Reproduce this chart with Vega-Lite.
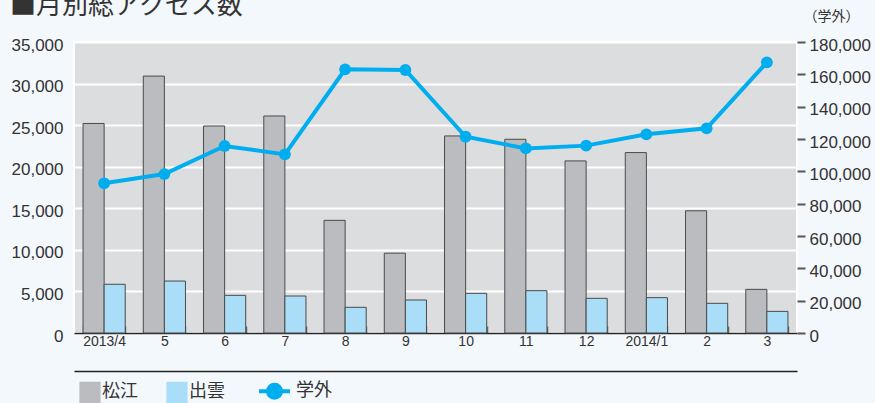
{
  "$schema": "https://vega.github.io/schema/vega-lite/v6.json",
  "width": 723,
  "height": 291,
  "autosize": {"type": "none"},
  "padding": {"left": 74, "top": 42, "right": 78, "bottom": 70},
  "background": "#f3f8fc",
  "title": {"text": "■月別総アクセス数", "anchor": "start", "frame": "group", "fontSize": 26, "font": "Noto Sans CJK JP", "fontWeight": "normal", "color": "#333333", "dx": -64, "dy": 10, "offset": 0},
  "config": {"view": {"fill": "#dcdddf", "stroke": "#ffffff", "strokeWidth": 2}, "font": "Liberation Sans"},
  "data": {"values": [
    {"m": "2013/4", "s": "松江", "v": 25200}, {"m": "2013/4", "s": "出雲", "v": 5860}, {"m": "2013/4", "s": "学外", "v": 92600},
    {"m": "5", "s": "松江", "v": 30900}, {"m": "5", "s": "出雲", "v": 6250}, {"m": "5", "s": "学外", "v": 98300},
    {"m": "6", "s": "松江", "v": 24900}, {"m": "6", "s": "出雲", "v": 4530}, {"m": "6", "s": "学外", "v": 115700},
    {"m": "7", "s": "松江", "v": 26100}, {"m": "7", "s": "出雲", "v": 4450}, {"m": "7", "s": "学外", "v": 110500},
    {"m": "8", "s": "松江", "v": 13550}, {"m": "8", "s": "出雲", "v": 3090}, {"m": "8", "s": "学外", "v": 163100},
    {"m": "9", "s": "松江", "v": 9600}, {"m": "9", "s": "出雲", "v": 3970}, {"m": "9", "s": "学外", "v": 162700},
    {"m": "10", "s": "松江", "v": 23700}, {"m": "10", "s": "出雲", "v": 4770}, {"m": "10", "s": "学外", "v": 121400},
    {"m": "11", "s": "松江", "v": 23300}, {"m": "11", "s": "出雲", "v": 5090}, {"m": "11", "s": "学外", "v": 114200},
    {"m": "12", "s": "松江", "v": 20700}, {"m": "12", "s": "出雲", "v": 4170}, {"m": "12", "s": "学外", "v": 115900},
    {"m": "2014/1", "s": "松江", "v": 21700}, {"m": "2014/1", "s": "出雲", "v": 4250}, {"m": "2014/1", "s": "学外", "v": 122900},
    {"m": "2", "s": "松江", "v": 14700}, {"m": "2", "s": "出雲", "v": 3570}, {"m": "2", "s": "学外", "v": 126600},
    {"m": "3", "s": "松江", "v": 5250}, {"m": "3", "s": "出雲", "v": 2600}, {"m": "3", "s": "学外", "v": 167400}
  ]},
  "layer": [
    {
      "transform": [{"filter": "datum.s !== '学外'"}],
      "mark": {"type": "bar", "stroke": "#4a4a4a", "strokeWidth": 1},
      "encoding": {
        "x": {"field": "m", "type": "ordinal", "sort": ["2013/4","5","6","7","8","9","10","11","12","2014/1","2","3"],
          "scale": {"paddingInner": 0.3, "paddingOuter": 0.15},
          "axis": {"title": null, "labelAngle": 0, "labelFontSize": 14, "labelColor": "#333333", "domainColor": "#222222", "domainWidth": 1.5, "tickBand": "extent", "tickSize": -7, "tickColor": "#666666", "tickWidth": 1.5, "labelPadding": 8, "grid": false}},
        "xOffset": {"field": "s", "type": "nominal", "sort": ["松江", "出雲"], "scale": {"paddingInner": 0, "paddingOuter": 0}},
        "y": {"field": "v", "type": "quantitative", "scale": {"domain": [0, 35000]},
          "axis": {"title": null, "orient": "left", "values": [0,5000,10000,15000,20000,25000,30000,35000], "format": ",d", "grid": true, "gridColor": "#ffffff", "gridWidth": 2, "ticks": false, "tickSize": 0, "domain": false, "labelFontSize": 17, "labelColor": "#333333", "labelPadding": 11, "labelOffset": 3}},
        "color": {"field": "s", "type": "nominal",
          "scale": {"domain": ["松江", "出雲", "学外"], "range": ["#bbbcc0", "#aadef8", "#00aeef"]},
          "legend": {"orient": "none", "legendX": 7, "legendY": 340, "direction": "horizontal", "title": null, "symbolSize": 400, "labelFontSize": 18, "labelFont": "Noto Sans CJK JP", "labelColor": "#333333", "labelOffset": 3, "columnPadding": 26, "symbolOpacity": 1,
            "symbolType": {"expr": "datum.value === '学外' ? 'M-2.5,0H0.6M-0.3,0A0.65,0.65 0 1,1 -1.6,0A0.65,0.65 0 1,1 -0.3,0Z' : 'square'"},
            "symbolStrokeColor": {"expr": "datum.value === '学外' ? '#00aeef' : '#5a5a5a'"},
            "symbolStrokeWidth": {"expr": "datum.value === '学外' ? 4 : 1.2"}
          }}
      }
    },
    {
      "transform": [{"filter": "datum.s === '学外'"}],
      "mark": {"type": "line", "strokeWidth": 4, "point": {"filled": true, "size": 140, "opacity": 1}},
      "encoding": {
        "x": {"field": "m", "type": "ordinal", "sort": ["2013/4","5","6","7","8","9","10","11","12","2014/1","2","3"],
          "axis": {"title": null, "orient": "bottom", "offset": 38, "labels": false, "ticks": false, "grid": false, "domainColor": "#222222", "domainWidth": 1.5}},
        "y": {"field": "v", "type": "quantitative", "scale": {"domain": [0, 180000]},
          "axis": {"orient": "right", "values": [0,20000,40000,60000,80000,100000,120000,140000,160000,180000], "format": ",d", "grid": false, "domain": false, "tickSize": 8, "tickColor": "#555555", "tickWidth": 2, "labelPadding": 4, "labelFontSize": 17, "labelColor": "#333333", "labelOffset": 3,
            "title": "（学外）", "titleAngle": 0, "titleFontSize": 14, "titleFont": "Noto Sans CJK JP", "titleFontWeight": "normal", "titleColor": "#333333", "titleX": 6, "titleY": -26, "titleAlign": "left", "titleBaseline": "middle"}},
        "color": {"field": "s", "type": "nominal"}
      }
    }
  ],
  "resolve": {"scale": {"y": "independent"}, "axis": {"x": "independent"}}
}
